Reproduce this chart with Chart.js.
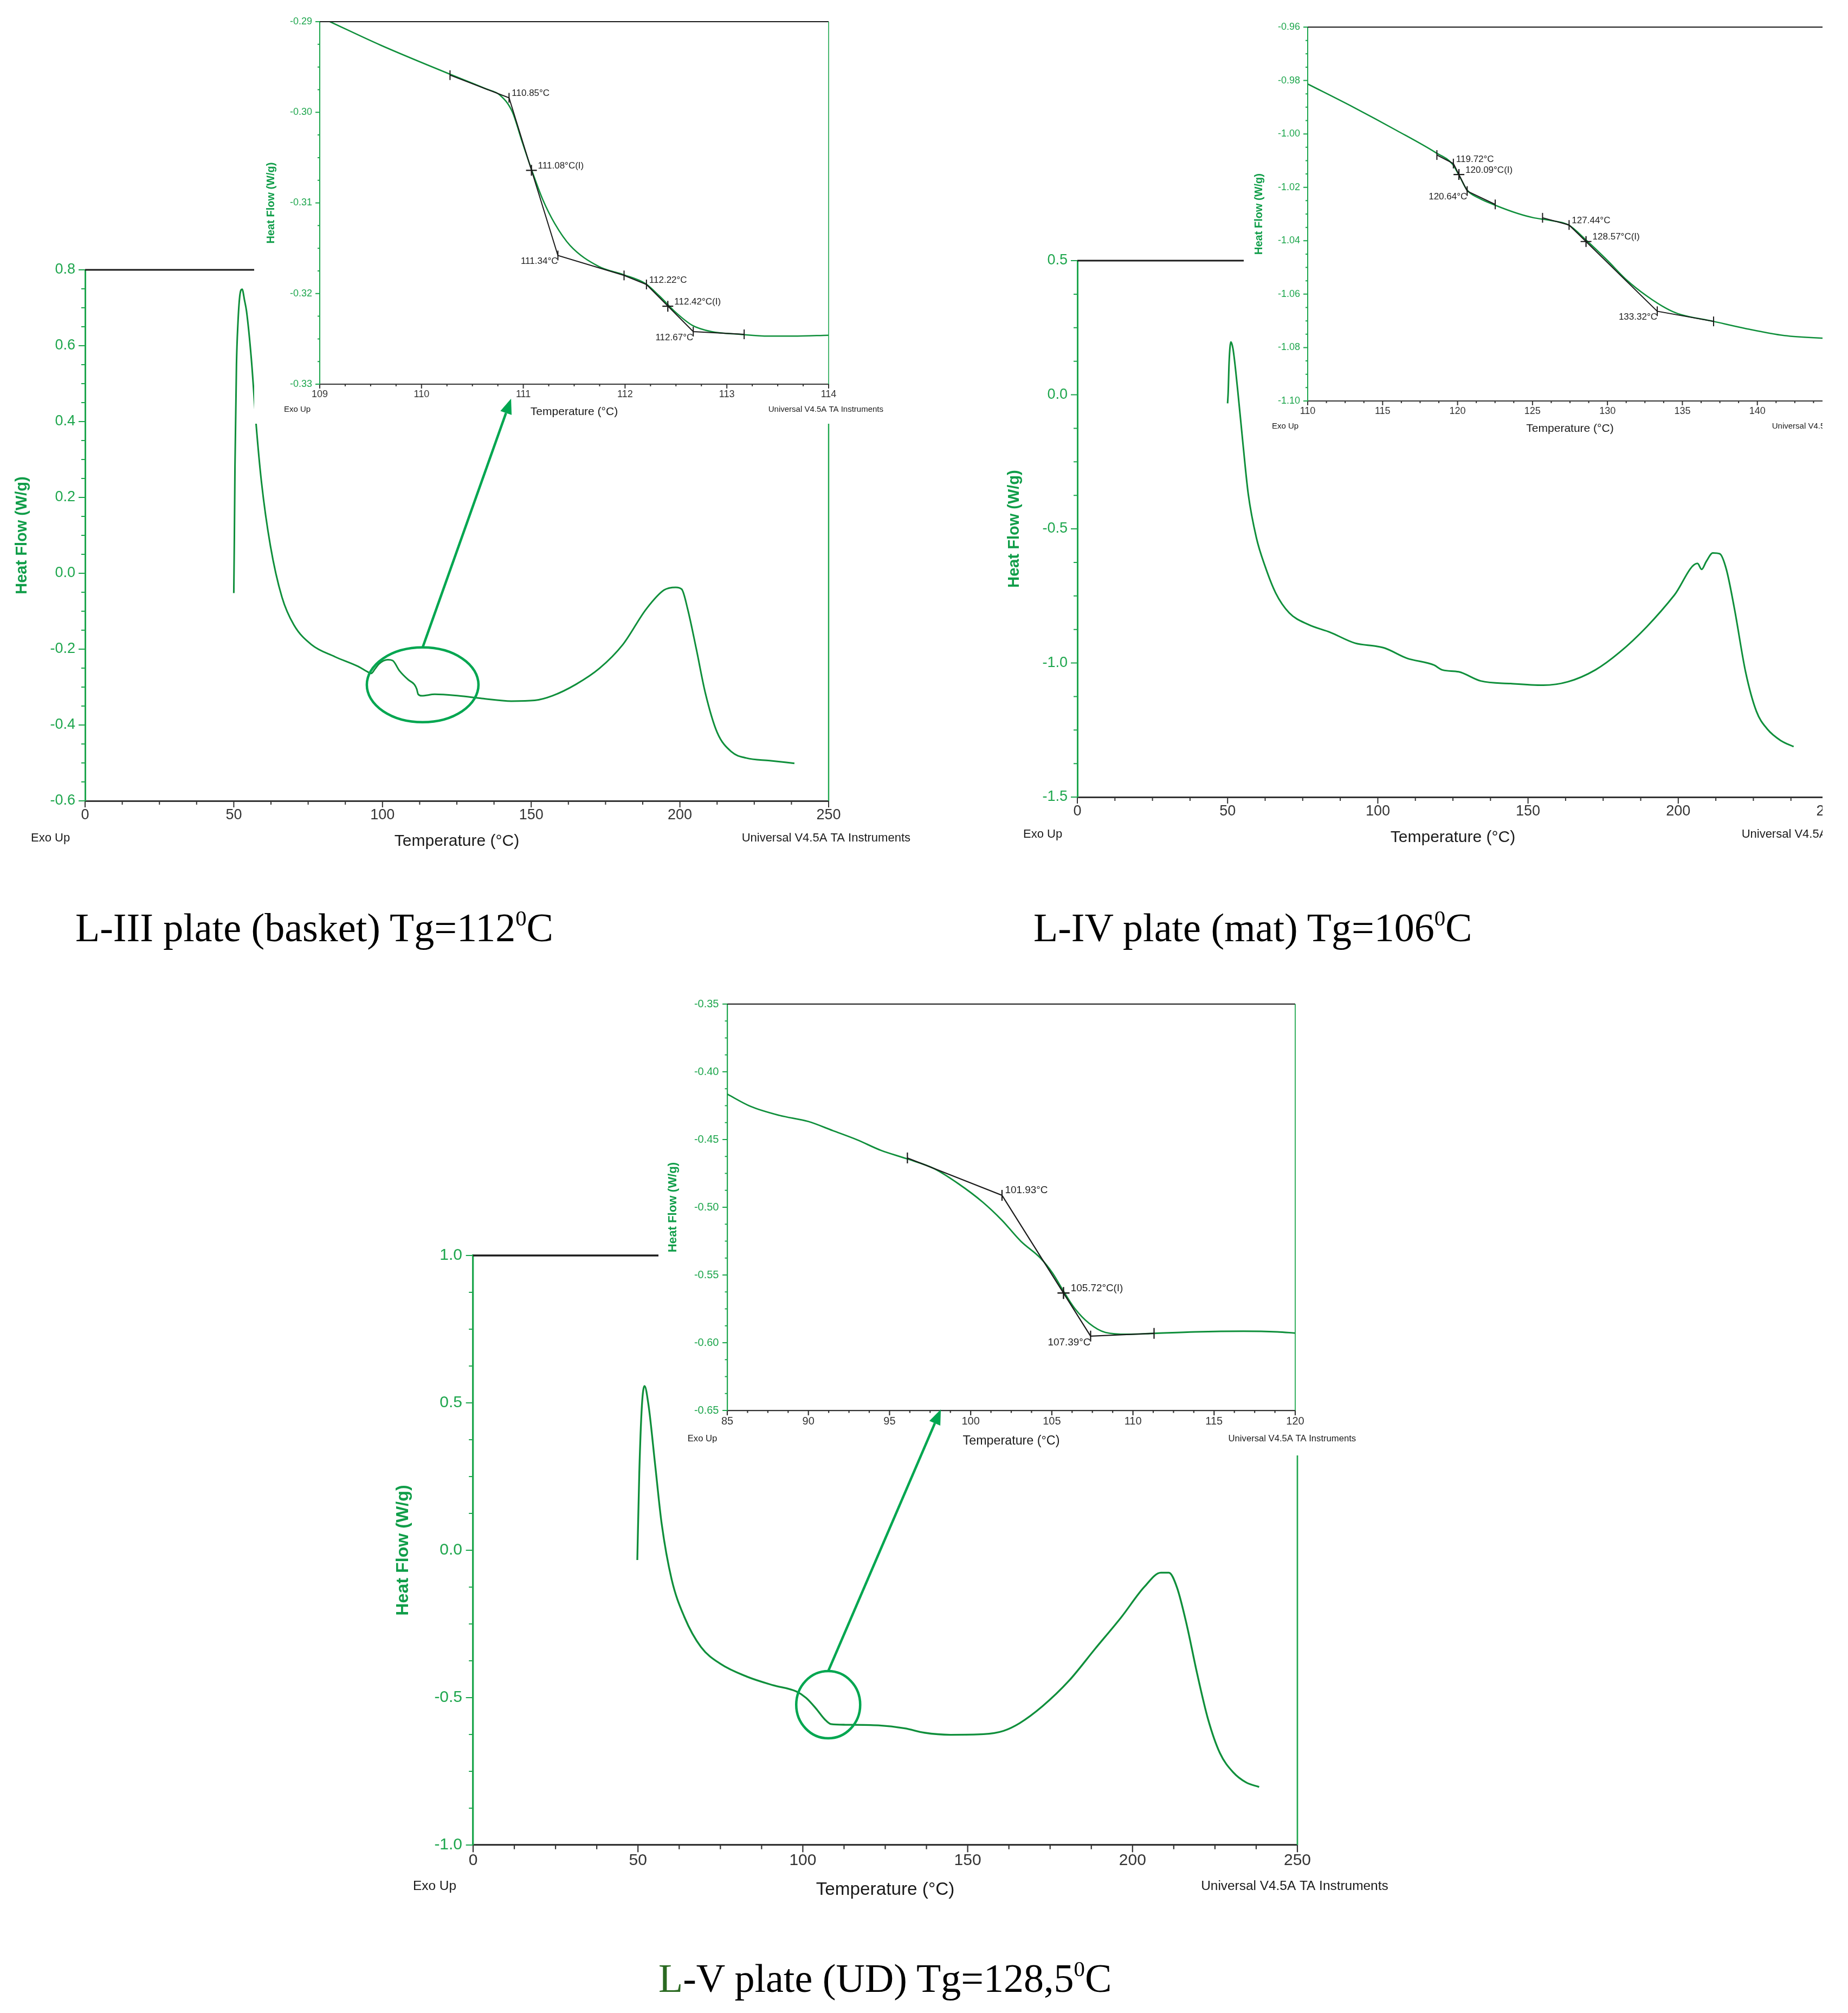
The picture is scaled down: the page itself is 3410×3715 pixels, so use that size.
<!DOCTYPE html>
<html>
<head>
<meta charset="utf-8">
<title>DSC curves L-III, L-IV, L-V</title>
<script src="https://cdn.jsdelivr.net/npm/chart.js@4.4.1/dist/chart.umd.min.js"></script>
<style>
  body { margin: 0; background: #fff; }
  #page { position: relative; width: 3410px; height: 3715px; overflow: hidden; background: #fff; }
  canvas { position: absolute; }
  #clip2 { position: absolute; left: 0; top: 0; width: 3363px; height: 1800px; overflow: hidden; }
  #ov { left: 0; top: 0; pointer-events: none; }
  .cap { position: absolute; font-family: 'Liberation Serif', 'Times New Roman', serif; font-size: 74px; line-height: 74px; white-space: nowrap; color: #000; }
  .cap sup { font-size: 0.55em; vertical-align: 0.72em; line-height: 0; }
</style>
</head>
<body>
<div id="page">
  <canvas id="m1"></canvas>
  <canvas id="i1"></canvas>
  <div id="clip2"><canvas id="m2"></canvas><canvas id="i2"></canvas></div>
  <canvas id="m3"></canvas>
  <canvas id="i3"></canvas>
  <canvas id="ov" width="3410" height="3715"></canvas>
  <div class="cap" style="left:139px;top:1675px">L-III plate (basket) Tg=112<sup>0</sup>C</div>
  <div class="cap" style="left:1907px;top:1675px">L-IV plate (mat) Tg=106<sup>0</sup>C</div>
  <div class="cap" style="left:1215px;top:3614px"><span style="color:#2b6a22">L</span>-V plate (UD) Tg=128,5<sup>0</sup>C</div>
</div>
<script>
// ---- L-III plate (basket): full run
const tempL3 = [50.0, 50.2, 50.4, 50.9, 51.4, 52.0, 52.8, 53.6, 54.3, 55.9, 57.5, 59.3, 62.3, 66.2, 70.2, 76.1, 84.0, 91.9, 95.5, 96.2, 97.5, 98.8, 101.8, 103.4, 105.7, 108.7, 110.7, 111.5, 112.0, 113.2, 117.6, 125.5, 133.4, 143.3, 151.2, 157.1, 165.0, 172.9, 180.8, 188.7, 194.7, 198.6, 200.6, 202.6, 205.5, 208.5, 212.5, 217.4, 222.3, 230.2, 238.5];
const flowL3 = [-0.052, 0.10, 0.283, 0.55, 0.66, 0.73, 0.749, 0.72, 0.69, 0.565, 0.393, 0.241, 0.073, -0.063, -0.136, -0.188, -0.220, -0.246, -0.262, -0.264, -0.252, -0.239, -0.228, -0.230, -0.257, -0.281, -0.293, -0.305, -0.319, -0.323, -0.319, -0.323, -0.330, -0.337, -0.335, -0.323, -0.293, -0.251, -0.188, -0.094, -0.044, -0.037, -0.042, -0.094, -0.199, -0.314, -0.419, -0.471, -0.487, -0.494, -0.501];
// L-III zoom around Tg
const tempL3z = [109.1, 109.6, 110.28, 110.63, 110.77, 110.89, 110.99, 111.09, 111.19, 111.31, 111.46, 111.74, 111.98, 112.20, 112.34, 112.50, 112.66, 112.85, 113.13, 113.41, 113.65, 114.0];
const flowL3z = [-0.2900, -0.2926, -0.2958, -0.2974, -0.2981, -0.2999, -0.3033, -0.3066, -0.3096, -0.3123, -0.3147, -0.3170, -0.3179, -0.3189, -0.3203, -0.3221, -0.3235, -0.3242, -0.3245, -0.3247, -0.3247, -0.3246];
const tanL3x = [110.28, 110.86, 111.34, 111.99, 112.21, 112.67, 113.17];
const tanL3y = [-0.2959, -0.2984, -0.3158, -0.3180, -0.3190, -0.3242, -0.3245];
const inflL3x = [111.08, 112.42];
const inflL3y = [-0.3064, -0.3214];
const labL3 = ['110.85°C', '111.08°C(I)', '111.34°C', '112.22°C', '112.42°C(I)', '112.67°C'];
const labL3x = [110.86, 111.08, 111.34, 112.21, 112.42, 112.67];
const labL3y = [-0.2984, -0.3064, -0.3158, -0.3190, -0.3214, -0.3242];
const labL3side = ['r', 'r', 'l', 'r', 'r', 'l'];

// ---- L-IV plate (mat): full run
const tempL4 = [50.0, 50.2, 50.5, 51.1, 51.8, 53.3, 55.1, 56.9, 59.6, 62.4, 66.0, 70.5, 76.9, 84.2, 92.4, 99.6, 102.4, 109.6, 118.7, 121.5, 126.9, 134.2, 144.2, 155.1, 163.3, 172.4, 180.5, 189.6, 198.7, 206.4, 207.8, 209.3, 211.5, 213.8, 216.0, 218.7, 222.4, 226.0, 229.6, 234.2, 238.4];
const flowL4 = [-0.032, 0.01, 0.12, 0.197, 0.171, 0.024, -0.181, -0.372, -0.534, -0.637, -0.739, -0.813, -0.857, -0.886, -0.926, -0.938, -0.945, -0.982, -1.008, -1.026, -1.033, -1.067, -1.077, -1.083, -1.070, -1.026, -0.960, -0.864, -0.747, -0.629, -0.651, -0.622, -0.590, -0.593, -0.651, -0.798, -1.033, -1.180, -1.246, -1.290, -1.312];
// L-IV zoom
const tempL4z = [110.0, 113.05, 115.93, 118.54, 119.66, 120.1, 120.63, 121.41, 122.51, 124.02, 125.07, 126.1, 127.4, 128.6, 130.0, 131.3, 132.6, 133.94, 134.7, 137.08, 139.16, 141.8, 145.0];
const flowL4z = [-0.9813, -0.9900, -0.9987, -1.0070, -1.0113, -1.0155, -1.0210, -1.0240, -1.0267, -1.0298, -1.0314, -1.0323, -1.0341, -1.0399, -1.0474, -1.0548, -1.0606, -1.0654, -1.0673, -1.0702, -1.0728, -1.0755, -1.0767];
const tanL4x = [118.62, 119.72, 120.64, 122.51, 124.0, 125.67, 127.44, 133.32, 137.08];
const tanL4y = [-1.0079, -1.0111, -1.0214, -1.0264, null, -1.0314, -1.0341, -1.0664, -1.0702];
const inflL4x = [120.09, 128.57];
const inflL4y = [-1.0152, -1.0403];
const labL4 = ['119.72°C', '120.09°C(I)', '120.64°C', '127.44°C', '128.57°C(I)', '133.32°C'];
const labL4x = [119.72, 120.09, 120.64, 127.44, 128.57, 133.32];
const labL4y = [-1.0111, -1.0152, -1.0214, -1.0341, -1.0403, -1.0664];
const labL4side = ['r', 'r', 'l', 'r', 'r', 'l'];

// ---- L-V plate (UD): full run
const tempL5 = [49.8, 50.4, 51.2, 52.0, 53.2, 55.2, 57.2, 60.2, 64.1, 69.1, 75.1, 83.1, 91.0, 98.0, 101.0, 104.0, 106.6, 108.6, 112.9, 122.9, 130.9, 136.9, 144.8, 154.8, 160.8, 165.7, 172.7, 180.7, 188.6, 196.6, 203.6, 208.6, 211.0, 213.5, 216.5, 219.5, 222.9, 226.5, 230.5, 234.5, 238.4];
const flowL5 = [-0.033, 0.262, 0.492, 0.557, 0.492, 0.291, 0.089, -0.098, -0.227, -0.328, -0.386, -0.429, -0.458, -0.479, -0.501, -0.537, -0.573, -0.590, -0.592, -0.594, -0.604, -0.619, -0.626, -0.624, -0.613, -0.587, -0.529, -0.443, -0.335, -0.227, -0.124, -0.076, -0.076, -0.127, -0.256, -0.414, -0.573, -0.688, -0.753, -0.788, -0.803];
// L-V zoom
const tempL5z = [85.0, 86.43, 88.22, 90.0, 91.5, 93.0, 94.47, 96.1, 97.75, 99.24, 100.73, 101.92, 103.1, 104.3, 105.05, 105.73, 106.4, 107.3, 108.3, 109.67, 111.3, 113.84, 116.8, 118.9, 120.0];
const flowL5z = [-0.4165, -0.4255, -0.4322, -0.4367, -0.4434, -0.4502, -0.4580, -0.4643, -0.4715, -0.4826, -0.4961, -0.5095, -0.5252, -0.5375, -0.5487, -0.5622, -0.5745, -0.5857, -0.5924, -0.5938, -0.5931, -0.5920, -0.5915, -0.5920, -0.5929];
const tanL5x = [96.1, 101.93, 107.39, 111.3];
const tanL5y = [-0.4636, -0.4912, -0.5951, -0.5931];
const inflL5x = [105.72];
const inflL5y = [-0.5633];
const labL5 = ['101.93°C', '105.72°C(I)', '107.39°C'];
const labL5x = [101.93, 105.72, 107.39];
const labL5y = [-0.4912, -0.5633, -0.5951];
const labL5side = ['r', 'r', 'l'];

const SANS = "'Liberation Sans', Arial, Helvetica, sans-serif";
const AXGREEN = '#1ea64d';
const CURVE = '#0f8f3b';
const RING = '#00a650';
const DARK = '#333333';
const INK = '#1a1a1a';

const MAIN = { tick: 27, xt: 30, yt: 29, note: 22, xPad: 10, yPad: 18, yTitle: 116, xTitle: 75, exoX: 100, exoY: 69, uniX: 151, tMaj: 12, tMin: 7, axW: 3, lineW: 3 };
const ZOOM = { tick: 18, xt: 21, yt: 20, note: 15, ann: 17, xPad: 8, yPad: 14, yTitle: 90, xTitle: 51, exoX: 66, exoY: 47, uniX: 101, tMaj: 8, tMin: 4, axW: 2, lineW: 2.5 };

function xy(xs, ys) { return xs.map((x, i) => ({ x: x, y: ys[i] })); }

function decor(s, st) {
  const k = s.k;
  return {
    id: 'decor',
    beforeDraw(chart) {
      if (!s.inset) return;
      const c = chart.ctx;
      c.save(); c.fillStyle = '#fff'; c.fillRect(0, 0, chart.width, chart.height); c.restore();
    },
    afterDatasetsDraw(chart) {
      if (!s.ring) return;
      const c = chart.ctx, r = s.ring;
      const cx = chart.scales.x.getPixelForValue(r.x), cy = chart.scales.y.getPixelForValue(r.y);
      c.save();
      c.strokeStyle = RING; c.lineWidth = 4.5;
      c.beginPath(); c.ellipse(cx, cy, r.rx, r.ry, 0, 0, Math.PI * 2); c.stroke();
      c.restore();
    },
    afterDraw(chart) {
      const c = chart.ctx, a = chart.chartArea, sx = chart.scales.x, sy = chart.scales.y;
      c.save();
      // frame: black top, green right
      c.lineWidth = st.axW * k; c.strokeStyle = INK;
      c.beginPath(); c.moveTo(a.left, a.top); c.lineTo(a.right, a.top); c.stroke();
      c.lineWidth = st.axW * k * 0.8; c.strokeStyle = AXGREEN;
      c.beginPath(); c.moveTo(a.right, a.top); c.lineTo(a.right, a.bottom); c.stroke();
      // minor / major tick marks, four intervals per labelled step
      const nx = Math.round((sx.max - sx.min) / s.xMinor);
      c.strokeStyle = DARK; c.lineWidth = 2 * k;
      c.beginPath();
      for (let i = 0; i <= nx; i++) {
        const p = sx.getPixelForValue(sx.min + i * s.xMinor);
        c.moveTo(p, a.bottom); c.lineTo(p, a.bottom + (i % 4 === 0 ? st.tMaj : st.tMin) * k);
      }
      c.stroke();
      const ny = Math.round((sy.max - sy.min) / s.yMinor);
      c.strokeStyle = AXGREEN;
      c.beginPath();
      for (let i = 0; i <= ny; i++) {
        const p = sy.getPixelForValue(sy.min + i * s.yMinor);
        c.moveTo(a.left, p); c.lineTo(a.left - (i % 4 === 0 ? st.tMaj : st.tMin) * k, p);
      }
      c.stroke();
      // axis titles and instrument notes
      c.textBaseline = 'middle';
      c.fillStyle = INK;
      c.font = (st.xt * k) + 'px ' + SANS;
      c.textAlign = 'center';
      c.fillText('Temperature (°C)', (a.left + a.right) / 2, a.bottom + st.xTitle * k);
      c.font = (st.note * k) + 'px ' + SANS;
      c.textAlign = 'left';
      c.fillText('Exo Up', a.left - st.exoX * k, a.bottom + st.exoY * k);
      c.textAlign = 'right';
      c.fillText('Universal V4.5A TA Instruments', a.right + st.uniX * k, a.bottom + st.exoY * k);
      c.save();
      c.translate(a.left - st.yTitle * k, (a.top + a.bottom) / 2);
      c.rotate(-Math.PI / 2);
      c.fillStyle = '#0f9d48';
      c.font = 'bold ' + (st.yt * k) + 'px ' + SANS;
      c.textAlign = 'center';
      c.fillText('Heat Flow (W/g)', 0, 0);
      c.restore();
      // step annotations
      if (s.labels) {
        c.font = (st.ann * k) + 'px ' + SANS;
        c.fillStyle = '#222';
        s.labels.text.forEach((t, i) => {
          const px = sx.getPixelForValue(s.labels.x[i]), py = sy.getPixelForValue(s.labels.y[i]);
          if (s.labels.side[i] === 'r') {
            c.textAlign = 'left';
            c.fillText(t, px + (t.endsWith('(I)') ? 12 : 5) * k, py - 8 * k);
          } else {
            c.textAlign = 'right';
            c.fillText(t, px, py + 11 * k);
          }
        });
      }
      c.restore();
    }
  };
}

function build(id, s) {
  const cv = document.getElementById(id);
  const p = s.plot, m = s.margin, k = s.k;
  const st = s.inset ? ZOOM : MAIN;
  const w = p.R - p.L + m.l + m.r, h = p.B - p.T + m.t + m.b;
  cv.width = w; cv.height = h;
  cv.style.left = (p.L - m.l) + 'px'; cv.style.top = (p.T - m.t) + 'px';
  cv.style.width = w + 'px'; cv.style.height = h + 'px';

  const datasets = [{
    data: xy(s.xs, s.ys), borderColor: CURVE, borderWidth: st.lineW * k,
    pointRadius: 0, cubicInterpolationMode: 'monotone', order: 3
  }];
  if (s.tan) {
    datasets.push({
      data: xy(s.tan.x, s.tan.y), borderColor: INK, borderWidth: 2 * k, tension: 0, spanGaps: false,
      pointStyle: 'line', pointRotation: 90, pointRadius: 9 * k, pointBorderWidth: 2 * k,
      pointBorderColor: INK, order: 2
    });
    datasets.push({
      data: xy(s.infl.x, s.infl.y), showLine: false, pointStyle: 'cross', pointRadius: 10 * k,
      pointBorderWidth: 2.2 * k, pointBorderColor: INK, order: 1
    });
  }

  const chart = new Chart(cv, {
    type: 'line',
    data: { datasets },
    options: {
      responsive: false, animation: false, devicePixelRatio: 1, events: [],
      layout: { autoPadding: false, padding: { left: 0, top: m.t, right: m.r, bottom: 0 } },
      plugins: { legend: { display: false }, tooltip: { enabled: false } },
      scales: {
        x: {
          type: 'linear', min: s.xMin, max: s.xMax,
          afterFit: sc => { sc.height = m.b; },
          grid: { display: false, drawTicks: false },
          border: { display: true, color: DARK, width: st.axW * k },
          ticks: {
            stepSize: s.xStep, autoSkip: false, maxRotation: 0, padding: st.xPad * k,
            color: DARK, font: { family: SANS, size: st.tick * k },
            callback: v => (v > s.xLabelMax ? '' : String(Math.round(v)))
          }
        },
        y: {
          type: 'linear', min: s.yMin, max: s.yMax,
          afterFit: sc => { sc.width = m.l; },
          grid: { display: false, drawTicks: false },
          border: { display: true, color: AXGREEN, width: st.axW * k },
          ticks: {
            stepSize: s.yStep, autoSkip: false, padding: st.yPad * k,
            color: AXGREEN, font: { family: SANS, size: st.tick * k },
            callback: v => v.toFixed(s.yDigits)
          }
        }
      }
    },
    plugins: [decor(s, st)]
  });
  chart.$left = p.L - m.l;
  chart.$top = p.T - m.t;
  return chart;
}

const m1 = build('m1', {
  k: 1, inset: false, xs: tempL3, ys: flowL3,
  plot: { L: 157, T: 498, R: 1529, B: 1478 }, margin: { l: 157, t: 58, r: 170, b: 110 },
  xMin: 0, xMax: 250, xStep: 50, xMinor: 12.5, xLabelMax: 250,
  yMin: -0.6, yMax: 0.8, yStep: 0.2, yMinor: 0.05, yDigits: 1,
  ring: { x: 113.5, y: -0.294, rx: 103, ry: 69 }
});
const i1 = build('i1', {
  k: 1, inset: true, xs: tempL3z, ys: flowL3z,
  plot: { L: 590, T: 40, R: 1529, B: 709 }, margin: { l: 121, t: 40, r: 121, b: 73 },
  xMin: 109, xMax: 114, xStep: 1, xMinor: 0.25, xLabelMax: 114,
  yMin: -0.33, yMax: -0.29, yStep: 0.01, yMinor: 0.0025, yDigits: 2,
  tan: { x: tanL3x, y: tanL3y }, infl: { x: inflL3x, y: inflL3y },
  labels: { text: labL3, x: labL3x, y: labL3y, side: labL3side }
});

const m2 = build('m2', {
  k: 1, inset: false, xs: tempL4, ys: flowL4,
  plot: { L: 1988, T: 481, R: 3374, B: 1471 }, margin: { l: 157, t: 58, r: 170, b: 110 },
  xMin: 0, xMax: 250, xStep: 50, xMinor: 12.5, xLabelMax: 250,
  yMin: -1.5, yMax: 0.5, yStep: 0.5, yMinor: 0.125, yDigits: 1
});
const i2 = build('i2', {
  k: 1, inset: true, xs: tempL4z, ys: flowL4z,
  plot: { L: 2413, T: 50, R: 3381, B: 740 }, margin: { l: 118, t: 50, r: 121, b: 75 },
  xMin: 110, xMax: 145, xStep: 5, xMinor: 1.25, xLabelMax: 140,
  yMin: -1.10, yMax: -0.96, yStep: 0.02, yMinor: 0.005, yDigits: 2,
  tan: { x: tanL4x, y: tanL4y }, infl: { x: inflL4x, y: inflL4y },
  labels: { text: labL4, x: labL4x, y: labL4y, side: labL4side }
});

const m3 = build('m3', {
  k: 1.11, inset: false, xs: tempL5, ys: flowL5,
  plot: { L: 873, T: 2317, R: 2394, B: 3405 }, margin: { l: 174, t: 60, r: 190, b: 122 },
  xMin: 0, xMax: 250, xStep: 50, xMinor: 12.5, xLabelMax: 250,
  yMin: -1.0, yMax: 1.0, yStep: 0.5, yMinor: 0.125, yDigits: 1,
  ring: { x: 107.7, y: -0.524, rx: 59, ry: 62 }
});
const i3 = build('i3', {
  k: 1.11, inset: true, xs: tempL5z, ys: flowL5z,
  plot: { L: 1342, T: 1853, R: 2390, B: 2603 }, margin: { l: 127, t: 53, r: 140, b: 83 },
  xMin: 85, xMax: 120, xStep: 5, xMinor: 1.25, xLabelMax: 120,
  yMin: -0.65, yMax: -0.35, yStep: 0.05, yMinor: 0.0125, yDigits: 2,
  tan: { x: tanL5x, y: tanL5y }, infl: { x: inflL5x, y: inflL5y },
  labels: { text: labL5, x: labL5x, y: labL5y, side: labL5side }
});

// pointer arrows from the ring on the full run to the zoomed plot
function arrow(ctx, main, ring, inset, tip) {
  const x1 = main.$left + main.scales.x.getPixelForValue(ring.x);
  const y1 = main.$top + main.scales.y.getPixelForValue(ring.y) - ring.ry;
  const x2 = inset.$left + inset.scales.x.getPixelForValue(tip.x);
  const y2 = inset.$top + inset.scales.y.getPixelForValue(tip.y);
  const ang = Math.atan2(y2 - y1, x2 - x1), head = 28, half = 11;
  const bx = x2 - head * Math.cos(ang), by = y2 - head * Math.sin(ang);
  ctx.strokeStyle = RING; ctx.fillStyle = RING; ctx.lineWidth = 4.5;
  ctx.beginPath(); ctx.moveTo(x1, y1); ctx.lineTo(bx, by); ctx.stroke();
  ctx.beginPath();
  ctx.moveTo(x2, y2);
  ctx.lineTo(bx + half * Math.sin(ang), by - half * Math.cos(ang));
  ctx.lineTo(bx - half * Math.sin(ang), by + half * Math.cos(ang));
  ctx.closePath(); ctx.fill();
}
const ov = document.getElementById('ov').getContext('2d');
arrow(ov, m1, { x: 113.5, y: -0.294, ry: 69 }, i1, { x: 110.88, y: -0.3316 });
arrow(ov, m3, { x: 107.7, y: -0.524, ry: 62 }, i3, { x: 98.16, y: -0.6492 });
</script>
</body>
</html>
